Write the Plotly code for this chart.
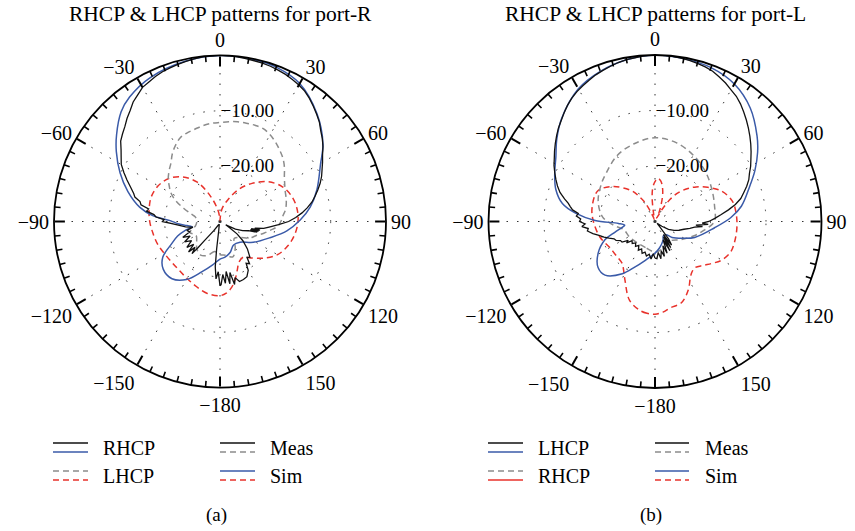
import math
import plotly.graph_objects as go

# ---------------- (a) port-R ----------------
A_SIM_RHCP_T = [-180, -170, -160, -150, -140, -130, -122, -115, -109, -104, -101, -97, -93, -89, -85, -80, -72, -64, -56, -50, -42, -36, -26, -12, 0,
                12, 20, 30, 42, 53, 60, 72, 81, 89, 98, 108, 122, 136, 150, 162, 172, 180]
A_SIM_RHCP_R = [-23.2, -22.0, -20.3, -17.9, -16.5, -16.6, -17.8, -20.3, -21.9, -23.6, -24.9, -24.0, -22.4, -21.0, -17.8, -15.3, -12.5, -9.9, -7.4, -5.6, -3.3, -2.2, -1.1, -0.35, 0.0,
                -0.1, -0.3, -1.2, -3.8, -6.7, -9.0, -11.6, -13.5, -15.5, -17.8, -20.5, -22.9, -24.8, -25.1, -24.1, -23.5, -23.2]

A_SIM_LHCP_T = [-180, -170, -160, -150, -140, -130, -120, -110, -100, -90, -80, -70, -60, -50, -40, -30, -20, -10, -5, 0,
                5, 10, 20, 30, 40, 50, 60, 70, 80, 90, 100, 110, 120, 130, 140, 147, 155, 160, 165, 170, 175, 180]
A_SIM_LHCP_R = [-16.6, -16.8, -17.5, -18.1, -18.5, -18.6, -18.4, -18.0, -17.7, -17.3, -17.0, -16.8, -17.1, -17.9, -19.5, -21.8, -25.3, -28.0, -29.3, -29.8,
                -28.8, -27.5, -25.8, -23.3, -21.0, -18.8, -17.2, -16.3, -15.9, -15.9, -16.3, -17.0, -18.0, -19.7, -21.4, -22.3, -21.9, -20.8, -19.3, -17.9, -17.0, -16.6]

A_MEAS_RHCP_T = [-180, -178, -176, -174, -173, -172, -165, -155, -146, -141, -140, -139, -136, -134, -131, -128, -124, -120, -116, -113, -109, -105, -102,
                 -99, -96, -93, -90, -88, -86, -84, -82, -80, -78, -76, -74, -72, -69, -66, -63, -60, -57, -54, -51, -48, -45, -42, -39, -36, -33,
                 -30, -27, -24, -21, -18, -15, -12, -9, -6, -3, 0, 3, 6, 9, 12, 15, 18, 21, 24, 27, 30, 33, 36, 39, 42, 45, 48, 51, 54, 57, 60,
                 63, 66, 69, 72, 75, 78, 81, 84, 87, 90, 93, 96, 99, 101, 102, 103, 104, 105, 106, 108, 112, 116, 120, 123, 126, 130, 135, 140,
                 143, 145, 148, 150, 154, 158, 162, 165, 167, 169, 171, 173, 175, 177, 179, 180]
A_MEAS_RHCP_R = [-18.4, -20.9, -19.6, -21.8, -25.0, -28.4, -29.5, -29.3, -28.0, -25.6, -23.8, -22.3, -23.5, -22.1, -23.7, -22.4, -23.8, -22.6, -24.0, -22.7, -24.2, -23.8, -25.0,
                 -23.7, -22.8, -21.5, -19.6, -19.9, -18.4, -18.0, -16.6, -16.9, -15.4, -15.1, -14.0, -13.6, -12.7, -11.6, -10.5, -9.4, -8.7, -7.9, -6.9, -6.3, -5.7, -4.9, -4.2, -3.3, -2.7,
                 -2.0, -1.7, -1.3, -1.0, -0.8, -0.6, -0.4, -0.25, -0.1, 0.0, 0.05, 0.0, -0.1, -0.2, -0.3, -0.35, -0.5, -0.7, -0.9, -1.2, -1.5, -1.9, -2.5, -3.2, -3.9, -4.6, -5.5, -6.2, -7.0, -7.9, -8.6,
                 -9.3, -9.9, -10.6, -11.4, -12.2, -13.0, -14.0, -15.1, -16.3, -17.6, -19.4, -20.9, -22.0, -23.6, -22.6, -24.2, -22.8, -24.3, -23.0, -24.6, -25.6, -26.9, -28.8, -28.0, -26.2, -24.6, -23.0, -21.6,
                 -21.9, -20.7, -21.1, -19.8, -18.9, -18.7, -18.6, -19.5, -18.3, -20.6, -18.6, -20.9, -18.8, -20.4, -18.6, -18.4]

A_MEAS_LHCP_T = [-180, -170, -160, -150, -140, -130, -120, -110, -100, -90, -80, -75, -70, -65, -60, -55, -50, -45, -40, -35, -30, -25, -20, -15, -10, -5, 0,
                 5, 10, 15, 20, 25, 30, 35, 40, 45, 50, 55, 60, 65, 70, 75, 80, 85, 90, 95, 100, 105, 110, 115, 120, 130, 140, 150, 160, 170, 180]
A_MEAS_LHCP_R = [-24.0, -24.5, -23.5, -23.0, -23.5, -24.5, -25.0, -24.2, -25.5, -25.8, -25.5, -24.5, -23.0, -21.2, -19.8, -18.8, -17.8, -17.0, -16.2, -15.0, -14.0, -13.2, -12.9, -12.7, -12.4, -12.2, -12.1,
                 -11.9, -11.7, -11.6, -11.5, -11.5, -11.9, -12.5, -13.2, -13.9, -14.8, -15.8, -16.5, -17.0, -17.3, -17.6, -18.0, -18.6, -19.0, -19.6, -20.8, -21.8, -22.8, -23.4, -24.0, -25.5, -26.0, -24.5, -23.2, -23.8, -24.0]

# ---------------- (b) port-L ----------------
B_SIM_LHCP_T = [-180, -166, -156, -148, -137, -129, -119, -110, -105, -100, -97, -93, -89, -84, -79, -72, -64, -57, -50, -42, -30, -20, -10, 0,
                10, 20, 30, 40, 50, 56, 63, 70, 80, 87, 96, 112, 122, 133, 140, 150, 157, 170, 180]
B_SIM_LHCP_R = [-24.3, -22.8, -21.0, -18.9, -16.8, -16.8, -18.3, -20.4, -22.5, -24.0, -24.5, -23.4, -19.2, -15.6, -13.0, -11.2, -9.9, -8.7, -6.9, -4.9, -2.4, -1.2, -0.4, 0.0,
                -0.2, -0.5, -1.4, -3.3, -6.0, -7.7, -9.8, -11.9, -14.2, -16.3, -19.2, -22.3, -24.3, -25.8, -26.9, -27.0, -26.3, -25.2, -24.3]

B_SIM_RHCP_T = [-180, -175, -170, -162, -153, -147, -142, -130, -120, -106, -90, -78, -62, -50, -37, -32, -28, -24, -20, -15, -10, -7, -4, 0,
                4, 8, 12, 16, 20, 24, 27, 30, 35, 40, 45, 50, 57, 65, 75, 85, 95, 105, 112, 120, 126, 132, 139, 144, 148, 154, 162, 170, 175, 180]
B_SIM_RHCP_R = [-13.3, -13.4, -13.8, -15.1, -18.1, -19.6, -20.4, -20.7, -20.6, -19.7, -18.9, -18.4, -18.3, -20.2, -23.1, -24.8, -26.1, -28.0, -29.3, -29.6, -28.5, -25.8, -24.0, -22.8,
                -22.2, -22.6, -23.6, -25.0, -26.8, -28.2, -29.3, -27.6, -24.8, -23.0, -21.6, -20.3, -18.7, -16.9, -15.6, -15.3, -15.2, -15.2, -15.3, -16.1, -17.2, -18.2, -19.0, -18.7, -18.0, -16.3, -14.6, -14.2, -13.6, -13.3]

B_MEAS_LHCP_T = [-180, -177, -174, -170, -166, -162, -158, -154, -150, -146, -142, -138, -134, -130, -127, -125, -122, -119, -116, -113, -110, -107, -104,
                 -101, -98, -96, -94, -92, -90, -88, -86, -84, -82, -80, -78, -76, -73, -70, -67, -64, -61, -58, -55, -52, -49, -46, -43, -40, -37,
                 -34, -31, -28, -25, -22, -19, -16, -13, -10, -7, -4, 0, 3, 6, 9, 12, 15, 18, 21, 24, 27, 30, 33, 36, 39, 42, 45, 48, 51, 54, 57,
                 60, 63, 66, 69, 72, 75, 78, 81, 84, 87, 90, 92, 93, 95, 96, 98, 101, 105, 110, 115, 120, 125, 130, 138, 142, 145, 147, 149,
                 151, 153, 156, 159, 162, 165, 168, 171, 174, 177, 180]
B_MEAS_LHCP_R = [-23.4, -24.2, -23.2, -24.0, -23.6, -24.2, -23.8, -24.5, -24.0, -24.8, -24.3, -24.8, -24.3, -24.6, -23.6, -24.1, -23.0, -22.9, -22.2, -22.0, -21.2, -20.4, -19.6,
                 -18.6, -17.7, -17.9, -16.8, -17.4, -16.4, -16.6, -15.8, -16.1, -15.0, -14.5, -14.0, -13.2, -12.1, -11.3, -10.6, -9.9, -9.2, -8.6, -7.9, -7.2, -6.5, -5.8, -5.2, -4.5, -3.8,
                 -3.2, -2.7, -2.3, -1.9, -1.5, -1.2, -0.9, -0.6, -0.4, -0.3, -0.1, 0.05, 0.0, -0.1, -0.2, -0.3, -0.5, -0.7, -1.0, -1.5, -2.0, -2.6, -3.1, -3.8, -4.6, -5.4, -6.2, -7.0, -7.8, -8.6, -9.4,
                 -10.1, -10.9, -11.5, -12.3, -13.2, -14.0, -15.2, -16.6, -18.0, -19.2, -20.3, -21.5, -20.4, -22.6, -21.4, -22.8, -23.6, -24.6, -25.4, -26.2, -27.2, -28.5, -29.5, -28.8, -26.0, -24.8, -27.2, -24.5,
                 -26.8, -24.1, -26.4, -23.9, -25.4, -23.5, -24.6, -23.2, -24.4, -23.3, -23.4]

B_MEAS_RHCP_T = [-180, -160, -140, -120, -105, -95, -85, -70, -55, -45, -30, -15, 0,
                 15, 30, 45, 60, 75, 90, 100, 110, 125, 140, 160, 180]
B_MEAS_RHCP_R = [-24.5, -25.0, -25.0, -24.6, -24.2, -22.5, -20.5, -19.1, -18.2, -17.6, -16.3, -15.5, -14.9,
                 -15.3, -16.2, -17.2, -18.2, -18.9, -19.3, -21.0, -22.5, -24.3, -25.5, -25.0, -24.5]

ANG_TICKS = [0, 30, 60, 90, 120, 150, 180, 210, 240, 270, 300, 330]
ANG_LABELS = ["0", "30", "60", "90", "120", "150", "\u2212180", "\u2212150", "\u2212120", "\u221290", "\u221260", "\u221230"]
MINOR_TICKS = [a for a in range(0, 360, 5) if a % 30 != 0]
RAD_TICKS = [-20, -10]
RAD_LABELS = ["\u221220.00", "\u221210.00"]

TITLES = ["RHCP &amp; LHCP patterns for port-R", "RHCP &amp; LHCP patterns for port-L"]
PANEL_LABELS = ["(a)", "(b)"]
LEGEND_A = [["RHCP", "LHCP"], ["Meas", "Sim"]]
LEGEND_B = [["LHCP", "RHCP"], ["Meas", "Sim"]]

FONT = "Liberation Serif"
BLUE = "#3a5aa8"
RED = "#e8322b"
GRAY = "#8c8c8c"
BLACK = "#111111"
DASH = "6px,4px"
GRID_DASH = "1.5px,9px"
R_MIN, R_MAX = -30, 0

W, H = 855, 531
def px(x):
    return x / W
def py(y):
    return 1 - y / H

FRAME_Y = (55, 388)
FRAME_XA = (54, 386)
FRAME_XB = (488, 822)
MAJOR_LEN, MINOR_LEN = 10, 6   # px

fig = go.Figure()

def add(theta, r, color, dash, width, subplot, shape="linear"):
    fig.add_trace(go.Scatterpolar(theta=theta, r=r, mode="lines",
                                  line=dict(color=color, dash=dash, width=width, shape=shape),
                                  subplot=subplot, showlegend=False, hoverinfo="skip"))

add(A_SIM_LHCP_T, A_SIM_LHCP_R, RED, DASH, 1.5, "polar", "spline")
add(A_MEAS_LHCP_T, A_MEAS_LHCP_R, GRAY, DASH, 1.5, "polar", "spline")
add(A_SIM_RHCP_T, A_SIM_RHCP_R, BLUE, "solid", 1.5, "polar", "spline")
add(A_MEAS_RHCP_T, A_MEAS_RHCP_R, BLACK, "solid", 1.3, "polar")
add(B_SIM_RHCP_T, B_SIM_RHCP_R, RED, DASH, 1.5, "polar2", "spline")
add(B_MEAS_RHCP_T, B_MEAS_RHCP_R, GRAY, DASH, 1.5, "polar2", "spline")
add(B_SIM_LHCP_T, B_SIM_LHCP_R, BLUE, "solid", 1.5, "polar2", "spline")
add(B_MEAS_LHCP_T, B_MEAS_LHCP_R, BLACK, "solid", 1.3, "polar2")

def polar_main(fx):
    return dict(
        domain=dict(x=[px(fx[0]), px(fx[1])], y=[py(FRAME_Y[1]), py(FRAME_Y[0])]),
        bgcolor="rgba(0,0,0,0)",
        radialaxis=dict(range=[R_MIN, R_MAX], tickvals=RAD_TICKS, ticktext=RAD_LABELS, showline=False,
                        ticks="", showgrid=True, gridcolor="#333333", griddash=GRID_DASH, gridwidth=1.3,
                        angle=90, tickangle=90, side="clockwise",
                        tickfont=dict(size=19, family=FONT, color="black")),
        angularaxis=dict(rotation=90, direction="clockwise", tickvals=ANG_TICKS, ticktext=ANG_LABELS,
                         ticks="inside", ticklen=MAJOR_LEN, tickwidth=2, tickcolor="black",
                         showline=True, linecolor="black", linewidth=1.8,
                         showgrid=True, gridcolor="#333333", griddash=GRID_DASH, gridwidth=1.3,
                         tickfont=dict(size=20, family=FONT, color="black")))

shapes = []
annotations = []

def add_minor_ticks(fx):
    rad = min(fx[1] - fx[0], FRAME_Y[1] - FRAME_Y[0]) / 2
    cx = (fx[0] + fx[1]) / 2
    cy = (FRAME_Y[0] + FRAME_Y[1]) / 2
    for a in MINOR_TICKS:
        s, c = math.sin(math.radians(a)), math.cos(math.radians(a))
        shapes.append(dict(type="line", xref="paper", yref="paper",
                           x0=px(cx + rad * s), y0=py(cy - rad * c),
                           x1=px(cx + (rad - MINOR_LEN) * s), y1=py(cy - (rad - MINOR_LEN) * c),
                           line=dict(color="black", width=1.6)))

add_minor_ticks(FRAME_XA)
add_minor_ticks(FRAME_XB)

def add_legend(cols, texts, styles):
    row_y = [(443, 452, 448), (471, 480, 476)]
    for c, (x0, x1, tx) in enumerate(cols):
        for r, (ya, yb, yt) in enumerate(row_y):
            (c1, d1), (c2, d2) = styles[(c, r)]
            shapes.append(dict(type="line", xref="paper", yref="paper", x0=px(x0), x1=px(x1),
                               y0=py(ya), y1=py(ya), line=dict(color=c1, width=1.5, dash=d1)))
            shapes.append(dict(type="line", xref="paper", yref="paper", x0=px(x0), x1=px(x1),
                               y0=py(yb), y1=py(yb), line=dict(color=c2, width=1.5, dash=d2)))
            annotations.append(dict(text=texts[c][r], x=px(tx), y=py(yt), xref="paper", yref="paper",
                                    xanchor="left", yanchor="middle", showarrow=False,
                                    font=dict(size=20, family=FONT, color="black")))

STYLES_A = {
    (0, 0): [(BLACK, "solid"), (BLUE, "solid")],
    (0, 1): [(GRAY, DASH), (RED, DASH)],
    (1, 0): [(BLACK, "solid"), (GRAY, DASH)],
    (1, 1): [(BLUE, "solid"), (RED, DASH)],
}
STYLES_B = {
    (0, 0): [(BLACK, "solid"), (BLUE, "solid")],
    (0, 1): [(GRAY, DASH), (RED, "solid")],
    (1, 0): [(BLACK, "solid"), (GRAY, DASH)],
    (1, 1): [(BLUE, "solid"), (RED, DASH)],
}
add_legend([(53, 88, 101), (220, 255, 268)], LEGEND_A, STYLES_A)
add_legend([(488, 523, 536), (655, 689, 703)], LEGEND_B, STYLES_B)

for cx, title, lab in [(220, TITLES[0], PANEL_LABELS[0]), (655, TITLES[1], PANEL_LABELS[1])]:
    annotations.append(dict(text=title, x=px(cx), y=py(14), xref="paper", yref="paper",
                            xanchor="center", yanchor="middle", showarrow=False,
                            font=dict(size=21.5, family=FONT, color="black")))
    annotations.append(dict(text=lab, x=px(cx - 4), y=py(515), xref="paper", yref="paper",
                            xanchor="center", yanchor="middle", showarrow=False,
                            font=dict(size=19, family=FONT, color="black")))

fig.update_layout(
    width=W, height=H, margin=dict(l=0, r=0, t=0, b=0),
    paper_bgcolor="white", plot_bgcolor="white",
    font=dict(family=FONT, color="black", size=19),
    polar=polar_main(FRAME_XA), polar2=polar_main(FRAME_XB),
    shapes=shapes, annotations=annotations, showlegend=False,
)

fig.write_html("out.html")
